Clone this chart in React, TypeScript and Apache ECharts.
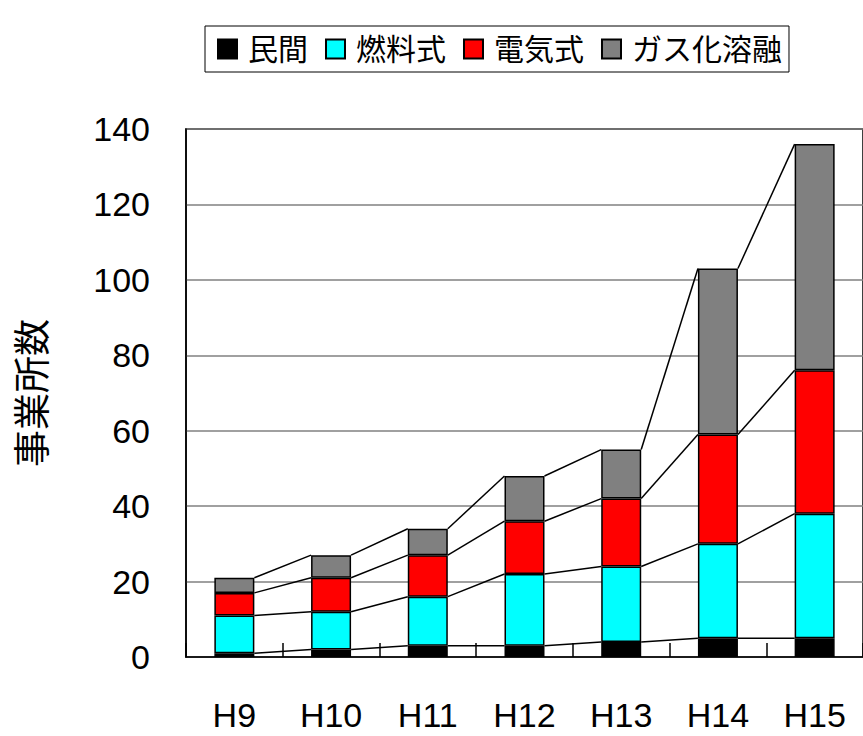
import React, { useEffect, useRef } from "react";
import * as echarts from "echarts";

const categories = ["H9", "H10", "H11", "H12", "H13", "H14", "H15"];
const seriesNames = ["民間", "燃料式", "電気式", "ガス化溶融"];
const minkan = [1, 2, 3, 3, 4, 5, 5];
const nenryo = [10, 10, 13, 19, 20, 25, 33];
const denki = [6, 9, 11, 14, 18, 29, 38];
const gasuka = [4, 6, 7, 12, 13, 44, 60];
const colors = ["#000000", "#00FFFF", "#FF0000", "#808080"];
const yTicks = { min: 0, max: 140, interval: 20 };
const yTitle = "事業所数";

const FONT = "'Liberation Sans', 'Noto Sans CJK JP', sans-serif";
const BAR_W = 40;

export default function App() {
  const ref = useRef<HTMLDivElement>(null);
  useEffect(() => {
    document.body.style.margin = "0";
    if (!ref.current) return;
    const chart = echarts.init(ref.current, undefined, { renderer: "svg" });
    const all = [minkan, nenryo, denki, gasuka];
    const cums: number[][] = [];
    let run = categories.map(() => 0);
    all.forEach((arr) => {
      run = run.map((v, i) => v + arr[i]);
      cums.push(run.slice());
    });
    const barSeries = all.map((arr, k) => ({
      name: seriesNames[k],
      type: "bar",
      stack: "total",
      barWidth: BAR_W,
      data: arr,
      itemStyle: { color: colors[k], borderColor: "#000", borderWidth: 1.5 },
      emphasis: { disabled: true },
    }));
    const lineSeries = cums.map((c) => ({
      type: "custom",
      silent: true,
      z: 5,
      data: c.slice(0, c.length - 1).map((v, i) => [i, v, c[i + 1]]),
      encode: { x: 0, y: [1, 2] },
      renderItem: (params: any, api: any) => {
        const i = api.value(0);
        const p1 = api.coord([i, api.value(1)]);
        const p2 = api.coord([i + 1, api.value(2)]);
        return {
          type: "line",
          shape: { x1: p1[0] + BAR_W / 2, y1: p1[1], x2: p2[0] - BAR_W / 2, y2: p2[1] },
          style: { stroke: "#000", lineWidth: 1.5 },
        };
      },
    }));
    chart.setOption({
      animation: false,
      textStyle: { fontFamily: FONT },
      legend: {
        data: seriesNames,
        left: 205,
        top: 26,
        orient: "horizontal",
        itemWidth: 19,
        itemHeight: 19,
        itemGap: 17,
        padding: [8, 7, 8, 12],
        borderColor: "#000",
        borderWidth: 1,
        icon: "rect",
        textStyle: { fontSize: 30, color: "#000", fontFamily: FONT, padding: [0, 0, 0, 6] },
      },
      grid: {
        left: 186,
        top: 129,
        width: 683,
        height: 528,
        show: true,
        borderColor: "#000",
        borderWidth: 1.5,
        backgroundColor: "transparent",
      },
      xAxis: {
        type: "category",
        data: categories,
        boundaryGap: true,
        axisLine: { lineStyle: { color: "#000", width: 1.5 } },
        axisTick: { show: true, inside: true, length: 14, lineStyle: { color: "#000", width: 1.5 } },
        axisLabel: { fontSize: 34, color: "#000", margin: 41, fontFamily: FONT },
      },
      yAxis: {
        type: "value",
        min: yTicks.min,
        max: yTicks.max,
        interval: yTicks.interval,
        name: yTitle,
        nameLocation: "middle",
        nameRotate: 90,
        nameGap: 134,
        nameTextStyle: { fontSize: 37, color: "#000", fontFamily: FONT },
        axisLine: { show: true, lineStyle: { color: "#000", width: 1.5 } },
        axisTick: { show: false },
        axisLabel: { fontSize: 34, color: "#000", margin: 36, fontFamily: FONT },
        splitLine: { show: true, lineStyle: { color: "#808080", width: 1.5 } },
      },
      series: [...barSeries, ...lineSeries],
    });
    return () => chart.dispose();
  }, []);
  return <div ref={ref} style={{ width: 863, height: 736, position: "absolute", left: 0, top: 0 }} />;
}
